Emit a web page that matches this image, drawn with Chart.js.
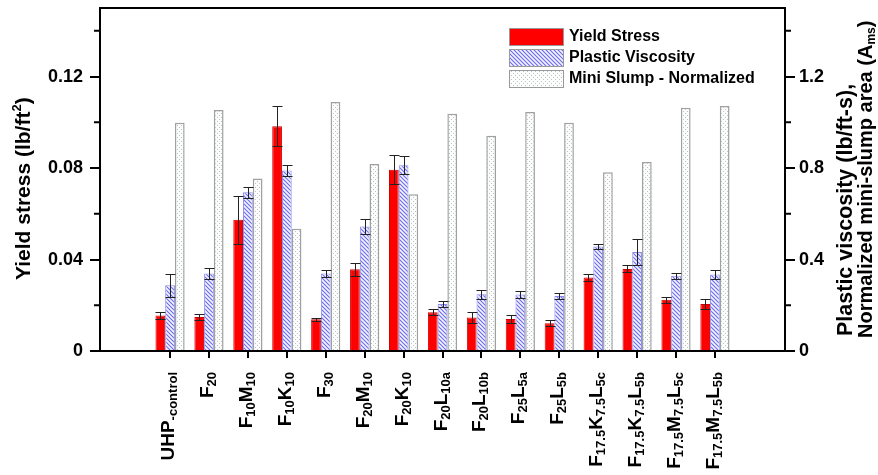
<!DOCTYPE html>
<html>
<head>
<meta charset="utf-8">
<script src="https://cdn.jsdelivr.net/npm/chart.js@4.4.0/dist/chart.umd.min.js"></script>
<style>
    html, body { margin: 0; padding: 0; background: #fff; }
    #wrap { width: 878px; height: 475px; }
</style>
</head>
<body>
<div id="wrap"><canvas id="chart" width="878" height="475"></canvas></div>
<script>
// Category labels, as [text, 'm' main | 's' subscript] pieces
const categories = [
    [['UHP', 'm'], ['-control', 's']],
    [['F', 'm'], ['20', 's']],
    [['F', 'm'], ['10', 's'], ['M', 'm'], ['10', 's']],
    [['F', 'm'], ['10', 's'], ['K', 'm'], ['10', 's']],
    [['F', 'm'], ['30', 's']],
    [['F', 'm'], ['20', 's'], ['M', 'm'], ['10', 's']],
    [['F', 'm'], ['20', 's'], ['K', 'm'], ['10', 's']],
    [['F', 'm'], ['20', 's'], ['L', 'm'], ['10a', 's']],
    [['F', 'm'], ['20', 's'], ['L', 'm'], ['10b', 's']],
    [['F', 'm'], ['25', 's'], ['L', 'm'], ['5a', 's']],
    [['F', 'm'], ['25', 's'], ['L', 'm'], ['5b', 's']],
    [['F', 'm'], ['17.5', 's'], ['K', 'm'], ['7.5', 's'], ['L', 'm'], ['5c', 's']],
    [['F', 'm'], ['17.5', 's'], ['K', 'm'], ['7.5', 's'], ['L', 'm'], ['5b', 's']],
    [['F', 'm'], ['17.5', 's'], ['M', 'm'], ['7.5', 's'], ['L', 'm'], ['5c', 's']],
    [['F', 'm'], ['17.5', 's'], ['M', 'm'], ['7.5', 's'], ['L', 'm'], ['5b', 's']]
];

// Series values
const yieldStress = [0.0155, 0.0149, 0.0574, 0.0983, 0.0139, 0.0358, 0.0793, 0.0170, 0.0146, 0.0140, 0.0121, 0.0321, 0.0359, 0.0224, 0.0206];
const yieldErr    = [0.0017, 0.0012, 0.0105, 0.0088, 0.0007, 0.0028, 0.0063, 0.0013, 0.0024, 0.0017, 0.0013, 0.0016, 0.0015, 0.0014, 0.0022];
const plasticVisc = [0.288, 0.339, 0.694, 0.789, 0.339, 0.544, 0.812, 0.205, 0.248, 0.247, 0.240, 0.457, 0.433, 0.329, 0.335];
const plasticErr  = [0.050, 0.022, 0.024, 0.025, 0.017, 0.033, 0.040, 0.012, 0.020, 0.017, 0.012, 0.012, 0.055, 0.012, 0.020];
const miniSlump   = [0.998, 1.054, 0.754, 0.535, 1.089, 0.818, 0.685, 1.038, 0.941, 1.045, 0.998, 0.782, 0.826, 1.064, 1.071];

// Axis ticks
const yTicks = [0, 0.04, 0.08, 0.12];
const yTickLabels = ['0', '0.04', '0.08', '0.12'];
const yMinorTicks = [0.02, 0.06, 0.10, 0.14];
const y2Ticks = [0, 0.4, 0.8, 1.2];
const y2TickLabels = ['0', '0.4', '0.8', '1.2'];
const y2MinorTicks = [0.2, 0.6, 1.0, 1.4];

const FONT = "'Liberation Sans', Arial, sans-serif";

function makeHatch() {
    const c = document.createElement('canvas');
    c.width = 4; c.height = 4;
    const g = c.getContext('2d');
    g.fillStyle = '#f4f4ff';
    g.fillRect(0, 0, 4, 4);
    g.strokeStyle = '#6a6af0';
    g.lineWidth = 1.1;
    g.beginPath();
    g.moveTo(-1, -1); g.lineTo(5, 5);
    g.moveTo(-1, 3); g.lineTo(1, 5);
    g.moveTo(3, -1); g.lineTo(5, 1);
    g.stroke();
    return g.createPattern(c, 'repeat');
}

function makeDots() {
    const c = document.createElement('canvas');
    c.width = 4; c.height = 4;
    const g = c.getContext('2d');
    g.fillStyle = '#fbfcfb';
    g.fillRect(0, 0, 4, 4);
    g.fillStyle = '#b4c8c0';
    g.fillRect(1, 1, 1, 1);
    g.fillRect(3, 3, 1, 1);
    return g.createPattern(c, 'repeat');
}

const hatch = makeHatch();
const dots = makeDots();

const toPoints = arr => arr.map((v, i) => ({ x: i, y: v }));

// draw a label made of main/subscript pieces, rotated bottom-to-top
function pieceFont(kind, big, small) {
    return kind === 'm' ? `bold ${big}px ${FONT}` : `bold ${small}px ${FONT}`;
}
function drawRotatedRich(ctx, pieces, cx, yEnd, big, small, subDrop, alignEnd) {
    ctx.save();
    ctx.translate(cx, yEnd);
    ctx.rotate(-Math.PI / 2);
    let w = 0;
    pieces.forEach(p => { ctx.font = pieceFont(p[1], big, small); w += ctx.measureText(p[0]).width; });
    let x = alignEnd ? -w : 0;
    ctx.fillStyle = '#000';
    ctx.textBaseline = 'alphabetic';
    ctx.textAlign = 'left';
    pieces.forEach(p => {
        ctx.font = pieceFont(p[1], big, small);
        ctx.fillText(p[0], x, p[1] === 'm' ? 0 : subDrop);
        x += ctx.measureText(p[0]).width;
    });
    ctx.restore();
}

const decorPlugin = {
    id: 'decor',
    afterDatasetsDraw(chart) {
        const ctx = chart.ctx;
        // error bars
        const errs = [yieldErr, plasticErr];
        [0, 1].forEach(di => {
            const meta = chart.getDatasetMeta(di);
            const scale = chart.scales[meta.yAxisID];
            const vals = chart.data.datasets[di].data;
            ctx.save();
            ctx.strokeStyle = '#222';
            ctx.lineWidth = 1;
            meta.data.forEach((bar, i) => {
                const v = vals[i].y, e = errs[di][i];
                const top = Math.round(scale.getPixelForValue(v + e)) + 0.5;
                const bot = Math.round(scale.getPixelForValue(v - e)) + 0.5;
                const x = Math.round(bar.x) + 0.5;
                ctx.beginPath();
                ctx.moveTo(x, top); ctx.lineTo(x, bot);
                ctx.moveTo(x - 5, top); ctx.lineTo(x + 5, top);
                ctx.moveTo(x - 5, bot); ctx.lineTo(x + 5, bot);
                ctx.stroke();
            });
            ctx.restore();
        });
    },
    afterDraw(chart) {
        const ctx = chart.ctx;
        const area = chart.chartArea;
        const ys = chart.scales.y, y2 = chart.scales.y2, xs = chart.scales.x;
        ctx.save();
        ctx.strokeStyle = '#000';
        ctx.lineWidth = 2;
        // top frame line
        ctx.beginPath();
        ctx.moveTo(area.left - 1, area.top);
        ctx.lineTo(area.right + 1, area.top);
        ctx.stroke();
        // minor ticks
        ctx.beginPath();
        yMinorTicks.forEach(v => {
            const p = ys.getPixelForValue(v);
            ctx.moveTo(area.left, p); ctx.lineTo(area.left - 6, p);
        });
        y2MinorTicks.forEach(v => {
            const p = y2.getPixelForValue(v);
            ctx.moveTo(area.right, p); ctx.lineTo(area.right + 6, p);
        });
        ctx.stroke();
        ctx.restore();

        // category labels
        categories.forEach((pieces, i) => {
            const cx = xs.getPixelForValue(i);
            drawRotatedRich(ctx, pieces, cx + 4, 372, 19, 13, 3, true);
        });

        // axis titles
        ctx.save();
        ctx.translate(30, 280);
        ctx.rotate(-Math.PI / 2);
        ctx.fillStyle = '#000';
        ctx.font = `bold 21px ${FONT}`;
        ctx.fillText('Yield stress (lb/ft', 0, 0);
        const w1 = ctx.measureText('Yield stress (lb/ft').width;
        ctx.font = `bold 13px ${FONT}`;
        ctx.fillText('2', w1, -9);
        const w2 = ctx.measureText('2').width;
        ctx.font = `bold 21px ${FONT}`;
        ctx.fillText(')', w1 + w2, 0);
        ctx.restore();

        drawRotatedRich(ctx, [['Plastic viscosity (lb/ft-s),', 'm']], 852, 336, 21.5, 12, 0, false);
        drawRotatedRich(ctx, [['Normalized mini-slump area (A', 'm'], ['ms', 's'], [')', 'm']], 872, 338, 20, 12, 3, false);

        // legend
        const items = [
            { label: 'Yield Stress', fill: '#ff0000' },
            { label: 'Plastic Viscosity', fill: hatch },
            { label: 'Mini Slump - Normalized', fill: dots }
        ];
        ctx.save();
        items.forEach((it, k) => {
            const top = 28 + k * 21;
            ctx.fillStyle = it.fill;
            ctx.fillRect(509, top, 54, 17);
            ctx.strokeStyle = '#999';
            ctx.lineWidth = 1;
            ctx.strokeRect(509.5, top + 0.5, 54, 17);
            ctx.fillStyle = '#000';
            ctx.font = `bold 16px ${FONT}`;
            ctx.textBaseline = 'middle';
            ctx.textAlign = 'left';
            ctx.fillText(it.label, 569, top + 9);
        });
        ctx.restore();
    }
};

// tiny lineHeight keeps the scale's label padding from pushing the plot top down
const tickFont = { family: FONT, size: 18, weight: 'bold', lineHeight: 0.05 };

const ctx = document.getElementById('chart').getContext('2d');
new Chart(ctx, {
    type: 'bar',
    data: {
        datasets: [
            {
                label: 'Yield Stress',
                data: toPoints(yieldStress),
                yAxisID: 'y',
                backgroundColor: '#ff0000',
                borderColor: '#d00000',
                borderWidth: 1
            },
            {
                label: 'Plastic Viscosity',
                data: toPoints(plasticVisc),
                yAxisID: 'y2',
                backgroundColor: hatch,
                borderColor: '#8a8ae8',
                borderWidth: 1
            },
            {
                label: 'Mini Slump - Normalized',
                data: toPoints(miniSlump),
                yAxisID: 'y2',
                backgroundColor: dots,
                borderColor: '#a0a0a0',
                borderWidth: 1.5
            }
        ]
    },
    options: {
        responsive: false,
        animation: false,
        devicePixelRatio: 1,
        categoryPercentage: 0.75,
        barPercentage: 1.0,
        layout: { padding: { top: 8, left: 0, right: 0, bottom: 0 } },
        plugins: {
            legend: { display: false },
            tooltip: { enabled: false }
        },
        scales: {
            x: {
                type: 'linear',
                min: -1.8,
                max: 15.8,
                offset: false,
                afterBuildTicks: s => { s.ticks = categories.map((c, i) => ({ value: i })); },
                afterFit: s => { s.height = 124; },
                ticks: { display: false },
                grid: { offset: false, drawOnChartArea: false, drawTicks: true, tickLength: 7, color: '#000', lineWidth: 2 },
                border: { display: true, color: '#000', width: 2 }
            },
            y: {
                position: 'left',
                min: 0,
                max: 0.15,
                afterBuildTicks: s => { s.ticks = yTicks.map(v => ({ value: v })); },
                afterFit: s => { s.width = 100; },
                ticks: {
                    color: '#000',
                    padding: 7,
                    font: tickFont,
                    callback: (v, i) => yTickLabels[i]
                },
                grid: { drawOnChartArea: false, drawTicks: true, tickLength: 10, color: '#000', lineWidth: 2 },
                border: { display: true, color: '#000', width: 2 }
            },
            y2: {
                position: 'right',
                min: 0,
                max: 1.5,
                afterBuildTicks: s => { s.ticks = y2Ticks.map(v => ({ value: v })); },
                afterFit: s => { s.width = 93; },
                ticks: {
                    color: '#000',
                    padding: 4,
                    font: tickFont,
                    callback: (v, i) => y2TickLabels[i]
                },
                grid: { drawOnChartArea: false, drawTicks: true, tickLength: 10, color: '#000', lineWidth: 2 },
                border: { display: true, color: '#000', width: 2 }
            }
        }
    },
    plugins: [decorPlugin]
});
</script>
</body>
</html>
